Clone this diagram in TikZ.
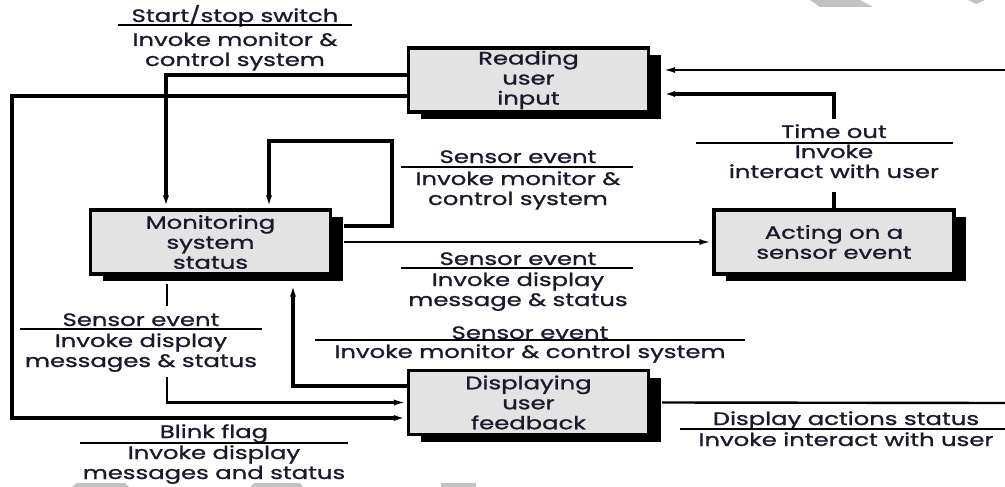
\documentclass[tikz,border=0pt]{standalone}
\usepackage{fontspec}
\setmainfont{Poppins}
\newfontfamily\lblface[FakeStretch=1.35,FakeBold=1.2]{Poppins}
\usetikzlibrary{arrows.meta,shadows}
\definecolor{boxgray}{HTML}{E3E3E3}
\definecolor{markgray}{HTML}{C2C2C2}
\definecolor{inkdark}{HTML}{1C1A2A}
\newcommand\lblfont{\lblface\fontsize{18}{20}\selectfont}

\begin{document}
\begin{tikzpicture}[x=1pt,y=-1pt,
  box/.style={draw=black,line width=3.4pt,fill=boxgray,
    minimum width=240pt,minimum height=64pt,inner sep=0pt,
    align=center,font=\lblfont,text=inkdark,
    drop shadow={shadow xshift=12pt,shadow yshift=-7pt,fill=black,opacity=1}},
  conn/.style={line width=3.2pt},
  thinconn/.style={line width=2.4pt},
  arr/.style={-{Latex[length=13pt,width=6pt]}},
  rulel/.style={line width=1.5pt},
  lbl/.style={font=\lblfont,text=inkdark,inner sep=0pt,anchor=base,align=center}]

% page frame
\useasboundingbox (0,0) rectangle (1005,487);

% faint background marks
\fill[markgray] (810,0) -- (860,0) -- (873,7) -- (820,7) -- cycle;
\fill[markgray] (968,0) -- (985,0) -- (976,4) -- cycle;
\fill[markgray] (77,483) -- (125,483) -- (129,487) -- (72,487) -- cycle;
\fill[markgray] (254,483) -- (300,483) -- (303,487) -- (250,487) -- cycle;
\fill[markgray] (441,483) -- (476,483) -- (476,487) -- (441,487) -- cycle;

% states
\node[box] (read) at (528.5,80)  {Reading\\user\\input};
\node[box] (mon)  at (210.5,242) {Monitoring\\system\\status};
\node[box] (act)  at (834,242)   {Acting on a\\sensor event};
\node[box] (disp) at (528.5,402.5) {Displaying\\user\\feedback};

% loose ends at the page edge
\coordinate (edgeA) at (1005,70);
\coordinate (edgeB) at (1005,403);
% gaps left for the transition labels
\coordinate (t1) at (834,119);
\coordinate (t2) at (834,192);
\coordinate (m1) at (167,306);
\coordinate (m2) at (167,377);

% transitions
\draw[conn,arr] ([yshift=5pt]read.west) -| ([xshift=-44.5pt]mon.north);
\draw[conn,arr] ([yshift=-16pt]read.west) -| (12,418) -- ([yshift=-15.5pt]disp.west);
\draw[thinconn,arr,shorten >=12pt] (edgeA) -- (edgeA -| read.east);
\draw[conn] (act.north) -- (t2);
\draw[conn,arr,shorten >=12pt] (t1) |- ([yshift=-14pt]read.east);
\draw[conn,arr] ([xshift=12pt,yshift=16pt]mon.east) -| (392,141) -| ([xshift=58.5pt]mon.north);
\draw[thinconn,arr] ([xshift=12pt]mon.east) -- (act.west);
\draw[thinconn] ([xshift=-43.5pt,yshift=-8pt]mon.south) -- (m1);
\draw[thinconn,arr] (m2) |- (disp.west);
\draw[conn,arr,shorten >=8pt] ([yshift=16.5pt]disp.west) -| ([xshift=82.5pt]mon.south);
\draw[thinconn] ([xshift=12pt]disp.east) -- (edgeB);

% event / action labels (multi-line nodes sit on their last baseline)
\node[lbl] (l1a) at (235,22) {Start/stop switch};
\draw[rulel] (118,25) -- (352,25);
\node[lbl] (l1b) at (235,66) {Invoke monitor \&\\control system};

\node[lbl] (l2a) at (518,163) {Sensor event};
\draw[rulel] (401,167) -- (633,167);
\node[lbl] (l2b) at (518,205) {Invoke monitor \&\\control system};

\node[lbl] (l3a) at (518,265) {Sensor event};
\draw[rulel] (401,268) -- (633,268);
\node[lbl] (l3b) at (518,306) {Invoke display\\message \& status};

\node[lbl] (l4a) at (530,339) {Sensor event};
\draw[rulel] (315,340) -- (745,340);
\node[lbl] (l4b) at (530,358) {Invoke monitor \& control system};

\node[lbl] (l5a) at (141,326) {Sensor event};
\draw[rulel] (20,329) -- (262,329);
\node[lbl] (l5b) at (141,367) {Invoke display\\messages \& status};

\node[lbl] (l6a) at (214,438) {Blink flag};
\draw[rulel] (80,443) -- (348,443);
\node[lbl] (l6b) at (214,479) {Invoke display\\messages and status};

\node[lbl] (l7a) at (834,138) {Time out};
\draw[rulel] (696,143) -- (953,143);
\node[lbl] (l7b) at (834,178) {Invoke\\interact with user};

\node[lbl] (l8a) at (846,425) {Display actions status};
\draw[rulel] (680,429) -- (1005,429);
\node[lbl] (l8b) at (846,446) {Invoke interact with user};
\end{tikzpicture}
\end{document}
